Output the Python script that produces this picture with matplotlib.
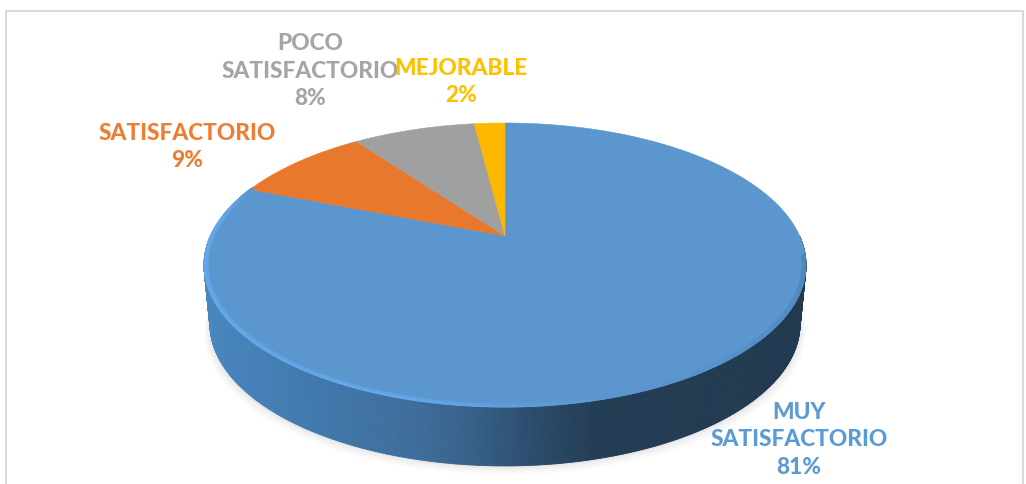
import numpy as np
import matplotlib
matplotlib.use('Agg')
import matplotlib.pyplot as plt
from matplotlib.collections import LineCollection
from matplotlib.colors import LinearSegmentedColormap

categories = ['MUY\nSATISFACTORIO', 'SATISFACTORIO', 'POCO\nSATISFACTORIO', 'MEJORABLE']
values = [81, 9, 8, 2]
colors = ['#5b96cf', '#e8792c', '#a0a0a0', '#fcb900']
text_colors = ['#5b9bd5', '#ed7d31', '#a5a5a5', '#ffc000']
label_pos = [(799, 440), (187, 147), (310, 71), (461, 82)]

plt.rcParams['font.family'] = ['Lato', 'DejaVu Sans']

fig = plt.figure(figsize=(10.26, 4.84), dpi=100)
ax = fig.add_axes([0, 0, 1, 1])
ax.set_xlim(0, 1026)
ax.set_ylim(484, 0)
ax.axis('off')

# perspective of the disc, tilted so the tip sits above the middle of the ellipse
cx, cy = 505, 236
C = 0.204
A = -87.9
R = 294.7


def project(a, r=1.0, drop=0, shrink=1.0):
    x = r * np.cos(a)
    y = r * np.sin(a)
    d = 1 + C * y
    sx = cx + shrink * R * x / d
    sy = (A * y + cy) / d + drop
    return sx, sy


# frame
ax.plot([6, 6, 1023, 1023], [484, 11, 11, 484], color='#d9d9d9', lw=1.5)

# soft shadow under the disc
t = np.linspace(0, 2 * np.pi, 400)
for grow, alpha in zip([16, 12, 8, 4, 1], [0.03, 0.04, 0.05, 0.07, 0.08]):
    sx, sy = project(t, drop=59 + grow * 0.35, shrink=0.98 + grow * 0.0012)
    ax.fill(sx, sy + grow * 0.2, color='#8a8a8a', alpha=alpha, lw=0, zorder=1)

# side wall, shaded left to right
side_cmap = LinearSegmentedColormap.from_list('side', [
    (0.0, '#4a86bf'), (0.15, '#417bb0'), (0.35, '#3e6d9b'), (0.45, '#376188'),
    (0.52, '#2e5073'), (0.65, '#233d54'), (1.0, '#223a50')])
ts = np.linspace(np.pi, 2 * np.pi, 500)
for a0, a1 in zip(ts[:-1], ts[1:]):
    aa = np.array([a0, a1])
    x1, y1 = project(aa)
    x2, y2 = project(aa, drop=59, shrink=0.98)
    f = (x1.mean() - 204) / 602
    ax.fill([x1[0], x1[1], x2[1], x2[0]], [y1[0], y1[1], y2[1], y2[0]],
            color=side_cmap(f), lw=0.6, zorder=2)

# slices, clockwise from twelve o'clock
fracs = np.cumsum([0] + values) / sum(values)
for i, col in enumerate(colors):
    a = np.linspace(np.pi / 2 - 2 * np.pi * fracs[i], np.pi / 2 - 2 * np.pi * fracs[i + 1], 300)
    sx, sy = project(a)
    ax.fill(np.r_[cx, sx], np.r_[cy, sy], color=col, lw=0.4, zorder=3)

# light bevel round the front edge of the top face, gone by the right side
rim_cmap = LinearSegmentedColormap.from_list('rim', [
    (0.0, '#5b96cf'), (0.06, '#64a8ea'), (0.5, '#64a8ea'), (0.68, '#5b96cf'), (1.0, '#4f86bb')])
tr = np.linspace(np.radians(158), np.radians(352), 400)
for off, lw, alpha in [(0.992, 3.0, 0.4), (0.997, 1.8, 0.85)]:
    sx, sy = project(tr, r=off)
    pts = np.column_stack([sx, sy]).reshape(-1, 1, 2)
    segs = np.concatenate([pts[:-1], pts[1:]], axis=1)
    lc = LineCollection(segs, colors=rim_cmap((tr[:-1] - tr[0]) / (tr[-1] - tr[0])),
                        linewidths=lw, alpha=alpha, zorder=4, capstyle='round')
    ax.add_collection(lc)

for cat, val, col, (lx, ly) in zip(categories, values, text_colors, label_pos):
    ax.text(lx, ly, f'{cat}\n{val}%', color=col, fontsize=16.3, fontweight=900,
            ha='center', va='center', linespacing=1.36, zorder=5)

fig.savefig('out.png', dpi=100, facecolor='white')
